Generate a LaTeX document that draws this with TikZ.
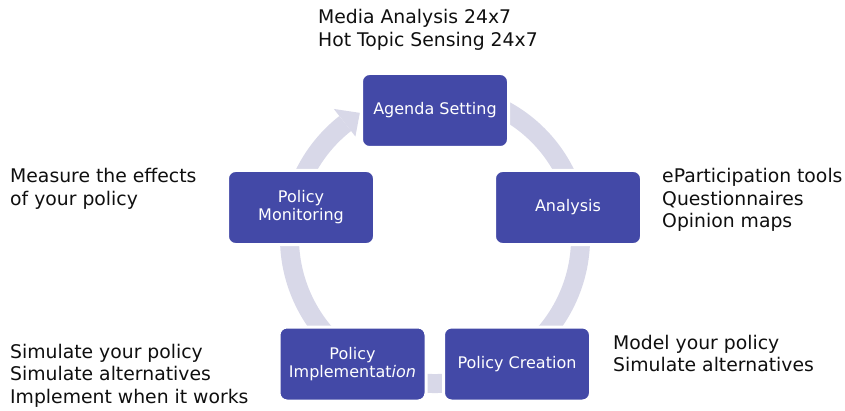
\documentclass[tikz,border=0pt]{standalone}
\usepackage{fontspec}
\setmainfont{DejaVu Sans}
\definecolor{boxblue}{RGB}{67,73,167}
\definecolor{ringgray}{RGB}{216,216,232}
\definecolor{textc}{RGB}{15,15,15}
\begin{document}
\begin{tikzpicture}[x=1pt,y=1pt,
  box/.style={rectangle, rounded corners=8pt, fill=boxblue, draw=white, line width=3pt,
    minimum width=147pt, minimum height=74pt, text=white,
    font=\fontsize{16}{18}\selectfont, align=center, inner sep=0pt},
  ring/.style={draw=ringgray, line width=19pt},
  note/.style={anchor=base west, inner sep=0pt, font=\fontsize{18.8}{22.5}\selectfont, text=textc}]
\useasboundingbox (0,0) rectangle (845,410);
\fill[white] (0,0) rectangle (845,410);
% cycle ring
\begin{scope}[shift={(435,172)}]
  \draw[ring] (65:145.5) arc[start angle=65, end angle=-231.9, radius=145.5];
  \fill[ringgray] (128.1:129) -- (121.0:146) -- (128.1:164) -- cycle;
\end{scope}
% boxes
\node[box] (agenda) at (435,299.5) {Agenda Setting};
\node[box] (analysis) at (568,202.5) {Analysis};
\node[box] (creation) at (517,46) {Policy Creation};
\node[box] (impl) at (352.5,46) {Policy\\Implementat\textit{ion}};
\node[box] (monitor) at (301,202.5) {Policy\\Monitoring};
% notes
\node[note] (media) at (318,386) {\begin{tabular}[t]{@{}l@{}}Media Analysis 24x7\\Hot Topic Sensing 24x7\end{tabular}};
\node[note] (measure) at (10,227) {\begin{tabular}[t]{@{}l@{}}Measure the effects\\of your policy\end{tabular}};
\node[note] (epart) at (662,227) {\begin{tabular}[t]{@{}l@{}}eParticipation tools\\Questionnaires\\Opinion maps\end{tabular}};
\node[note] (model) at (613,61) {\begin{tabular}[t]{@{}l@{}}Model your policy\\Simulate alternatives\end{tabular}};
\node[note] (simul) at (10,52) {\begin{tabular}[t]{@{}l@{}}Simulate your policy\\Simulate alternatives\\Implement when it works\end{tabular}};
\end{tikzpicture}
\end{document}
